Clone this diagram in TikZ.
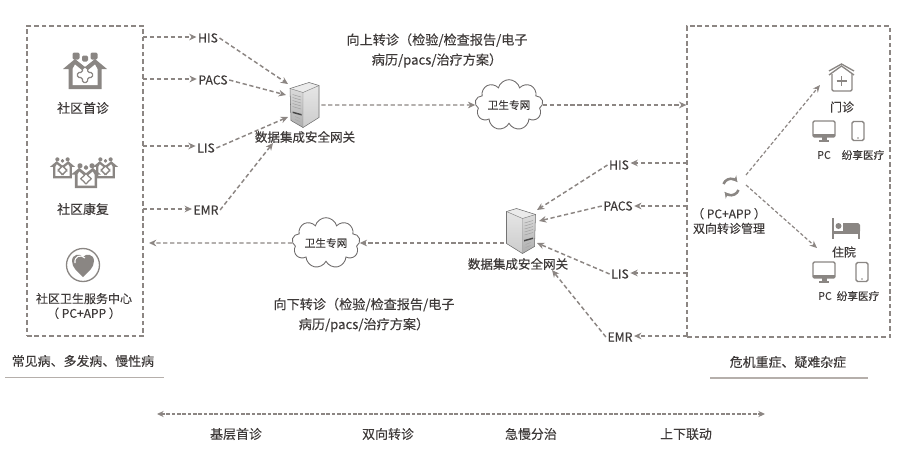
\documentclass[tikz,border=0pt]{standalone}
\usepackage{fontspec}
\setmainfont[FakeBold=0.18]{Noto Sans CJK SC}
\usetikzlibrary{arrows.meta,shapes.symbols}
\definecolor{dashc}{HTML}{8C8683}
\definecolor{iconc}{HTML}{8A8683}
\definecolor{txt}{HTML}{3E3A39}
\definecolor{rulec}{HTML}{B5AFAB}
\tikzset{
 lbl/.style={font=\fontsize{9.7pt}{11pt}\selectfont,text=txt,inner sep=1pt,align=center},
 latlbl/.style={font=\fontsize{9.2pt}{11pt}\selectfont,text=txt,inner sep=1pt,align=center},
 smalllbl/.style={font=\fontsize{8pt}{10pt}\selectfont,text=txt,inner sep=1pt,align=center},
 midlbl/.style={font=\fontsize{9pt}{11pt}\selectfont,text=txt,inner sep=1pt,align=center},
 para/.style={font=\fontsize{9.85pt}{15pt}\selectfont,text=txt,inner sep=0pt,align=center},
 dbox/.style={draw=dashc,line width=1pt,dash pattern=on 3.4pt off 2.2pt,inner sep=0pt,minimum width=0pt},
 conn/.style={draw=dashc,line width=1.1pt,dash pattern=on 3.2pt off 2pt,-{Stealth[length=5.5pt,width=5pt]}},
 thin conn/.style={draw=dashc,line width=.9pt,dash pattern=on 2.6pt off 1.6pt,-{Stealth[length=5.5pt,width=4.8pt]}},
 wan/.style={cloud,cloud puffs=9,cloud ignores aspect,draw=txt!75,line width=.65pt,fill=white,inner sep=0pt,minimum width=51pt,minimum height=38pt,font=\fontsize{8pt}{10pt}\selectfont,text=txt},
 hub/.style={minimum width=24pt,minimum height=36pt,inner sep=0pt},
 rulel/.style={draw=rulec,line width=1pt}
}
% server icon: #1,#2 centre in pixel units, #3 = 1 or -1 for mirroring
\newcommand{\srv}[3]{\begin{scope}[shift={(#1,#2)},xscale=#3]
 \fill[black!30] (-15,-16) -- (-14,16) -- (-2,23) -- (14,13) -- (14,-19) -- (4,-22) -- cycle;
 \shade[top color=black!14,bottom color=black!32] (-15,-16) -- (-2,-12) -- (-2,23) -- (-14,16) -- cycle;
 \shade[top color=black!10,bottom color=black!20] (-2,-12) -- (14,-19) -- (14,13) -- (-2,23) -- cycle;
 \fill[black!8] (-15,-16) -- (4,-22) -- (14,-19) -- (-2,-12) -- cycle;
 \foreach \yy in {-9,-6,-3,0,3}{\draw[black!38,line width=.35pt] (-12.5,\yy-1) -- (-4,\yy+1.5);}
 \fill[black!72] (-12.5,7) -- (-3.5,9.5) -- (-3.5,11) -- (-12.5,8.5) -- cycle;
 \foreach \yy in {13,16}{\draw[black!35,line width=.35pt] (-10,\yy-1) -- (-5,\yy+1);}
 \draw[black!48,line width=.35pt] (-15,-16) -- (-2,-12) -- (14,-19) (-2,-12) -- (-2,23);
 \draw[black!55,line width=.4pt] (-15,-16) -- (4,-22) -- (14,-19) -- (14,13) -- (-2,23) -- (-14,16) -- cycle;
\end{scope}}
% care-home icon
\newcommand{\people}[3]{\begin{scope}[shift={(#1,#2)},scale=#3]
 \fill[iconc,rounded corners=1pt] (-12.5,-18.5) rectangle (-5.5,-11.5);
 \fill[iconc,rounded corners=1pt] (-3,-15.5) rectangle (3,-9.5);
 \fill[iconc,rounded corners=1pt] (5.5,-18.5) rectangle (12.5,-11.5);
 \fill[iconc] (-22,-2) -- (-10,-12) -- (0,-4) -- (10,-12) -- (22,-2) -- (16.5,-2) -- (16.5,18) -- (-16.5,18) -- (-16.5,-2) -- cycle;
 \fill[white] (-12.5,-2) -- (-10,-6.5) -- (-2,0) -- (2,0) -- (10,-6.5) -- (12.5,-2) -- (12.5,14) -- (-12.5,14) -- cycle;
 \draw[iconc,line width=.9pt,fill=white,rounded corners=1.2] (-2.6,-3.5) -- (2.6,-3.5) -- (2.6,1.5) -- (7.6,1.5) -- (7.6,6.5) -- (2.6,6.5) -- (2.6,11.5) -- (-2.6,11.5) -- (-2.6,6.5) -- (-7.6,6.5) -- (-7.6,1.5) -- (-2.6,1.5) -- cycle;
\end{scope}}
\newcommand{\monitor}[2]{\begin{scope}[shift={(#1,#2)}]
 \draw[iconc,line width=1pt,rounded corners=1,fill=white] (-11,-10) rectangle (11,6);
 \fill[iconc] (-11,3) rectangle (11,6);
 \fill[iconc] (-2.5,6) rectangle (2.5,9);
 \fill[iconc] (-5,9) rectangle (5,10.5);
\end{scope}}
\newcommand{\phoneic}[2]{\begin{scope}[shift={(#1,#2)}]
 \draw[iconc,line width=1pt,rounded corners=1.2,fill=white] (-6,-9.5) rectangle (6,9.5);
 \fill[iconc] (0,7) circle (.9);
\end{scope}}
\begin{document}
\begin{tikzpicture}[x=.75pt,y=-.75pt]
\useasboundingbox (0,0) rectangle (907,454);
% containers
\node[dbox,minimum width=87pt,minimum height=232.5pt] (leftbox) at (85,181) {};
\node[dbox,minimum width=152.2pt,minimum height=233.2pt] (rightbox) at (788.5,181.5) {};
% left labels and icons
\people{85}{71}{1}
\node[lbl] (shouzhen) at (83,108) {社区首诊};
\people{62.5}{168}{.57}
\people{105.5}{168}{.57}
\people{86}{176}{.68}
\node[lbl] (kangfu) at (83,209) {社区康复};
\draw[iconc,line width=1pt] (83,265) circle (16.5);
\fill[iconc] (83,277) .. controls (78,272) and (72,268) .. (72,261) .. controls (72,254) and (80,253) .. (83,257) .. controls (86,253) and (94,254) .. (94,261) .. controls (94,268) and (88,272) .. (83,277) -- cycle;
\draw[white,line width=.8pt] (75,263) .. controls (74,256) and (81,254) .. (85,258);
\node[midlbl] (center) at (84,306) {社区卫生服务中心\\（ PC+APP ）};
\node[lbl] (common) at (83,361) {常见病、多发病、慢性病};
\coordinate (ruleLa) at (5,377.5); \coordinate (ruleLb) at (164,377.5);
\draw[rulel] (ruleLa) -- (ruleLb);
% upper row
\node[latlbl] (hisA) at (208,38) {HIS};
\node[latlbl] (pacsA) at (213,80) {PACS};
\node[latlbl] (lisA) at (206,148) {LIS};
\node[latlbl] (emrA) at (206,210) {EMR};
\foreach \n/\yy in {hisA/37,pacsA/79,lisA/146,emrA/209}{\draw[conn] (143,\yy) -- (\n.west |- 0,\yy);}
\srv{305}{104.5}{1}
\node[hub] (srvA) at (305,105) {};
\coordinate (srvAa) at (288,84); \coordinate (srvAb) at (286,95);
\coordinate (srvAc) at (288,117); \coordinate (srvAd) at (273,143);
\draw[conn] (hisA.east) -- (srvAa);
\draw[conn] (pacsA.east) -- (srvAb);
\draw[conn] (lisA.east) -- (srvAc);
\draw[conn] (emrA.east) -- (srvAd);
\node[midlbl,font=\fontsize{9.4pt}{11pt}\selectfont] (gateA) at (305,137) {数据集成安全网关};
\node[wan] (cloudA) at (509,105) {卫生专网};
\draw[conn] (srvA.east) -- (cloudA.west);
\draw[conn] (cloudA.east) -- (rightbox.west |- cloudA.east);
\node[para] (upT) at (437,50.5) {向上转诊（检验/检查报告/电子\\病历/pacs/治疗方案）};
% lower row
\node[latlbl] (hisB) at (619,165) {HIS};
\node[latlbl] (pacsB) at (618,206) {PACS};
\node[latlbl] (lisB) at (620,274) {LIS};
\node[latlbl] (emrB) at (620,337) {EMR};
\foreach \n/\yy in {hisB/163,pacsB/206,lisB/273,emrB/336}{\draw[conn] (687,\yy) -- (\n.east |- 0,\yy);}
\srv{520.5}{230.5}{-1}
\node[hub] (srvB) at (520.5,230.5) {};
\coordinate (srvBa) at (537,210); \coordinate (srvBb) at (539,221);
\coordinate (srvBc) at (537,243); \coordinate (srvBd) at (552,270);
\draw[conn] (hisB.west) -- (srvBa);
\draw[conn] (pacsB.west) -- (srvBb);
\draw[conn] (lisB.west) -- (srvBc);
\draw[conn] (emrB.west) -- (srvBd);
\node[midlbl,font=\fontsize{9.4pt}{11pt}\selectfont] (gateB) at (518,264) {数据集成安全网关};
\node[wan] (cloudB) at (326,243) {卫生专网};
\draw[conn] (srvB.west |- cloudB.east) -- (cloudB.east);
\coordinate (backL) at (149,243);
\draw[conn] (cloudB.west) -- (backL);
\node[para] (downT) at (364,315) {向下转诊（检验/检查报告/电子\\病历/pacs/治疗方案）};
% right panel
\node[midlbl] (mgr) at (729,221) {（ PC+APP ）\\双向转诊管理};
\node[inner sep=0pt,minimum size=15pt] (cycle) at (731,187) {};
\draw[iconc,line width=1.9pt,-{Stealth[length=4pt,width=5pt]}] (723.5,184) arc (200:320:8);
\draw[iconc,line width=1.9pt,-{Stealth[length=4pt,width=5pt]}] (738.5,190) arc (20:140:8);
\coordinate (mz) at (820,85); \coordinate (zy) at (817,248);
\draw[thin conn] (746,175) -- (mz);
\draw[thin conn] (746,185) -- (zy);
% clinic
\draw[iconc,line width=1pt,rounded corners=1] (832,74) -- (832,91) -- (852,91) -- (852,74);
\draw[iconc,line width=1pt] (829,75) -- (841.5,66) -- (854,75);
\draw[iconc,line width=1pt] (829,71) -- (841.5,64) -- (854,71);
\draw[iconc,line width=1pt] (841.5,76) -- (841.5,86) (836.5,81) -- (846.5,81);
\node[midlbl] (menzhen) at (842,107) {门诊};
\monitor{824}{131}\phoneic{858}{131}
\node[smalllbl] (pcA) at (824,155) {PC};
\node[smalllbl] (fxA) at (863,155) {纷享医疗};
% ward
\fill[iconc] (832,218) rectangle (834,239);
\fill[iconc] (834,231) rectangle (860,234);
\fill[iconc] (858,234) rectangle (860,239);
\fill[iconc] (843,223) -- (858,223) -- (860,225) -- (860,231) -- (843,231) -- cycle;
\fill[iconc] (838.5,226) circle (3);
\node[midlbl] (zhuyuan) at (844,252) {住院};
\monitor{824}{272}\phoneic{862}{272}
\node[smalllbl] (pcB) at (825,296) {PC};
\node[smalllbl] (fxB) at (858,296) {纷享医疗};
\node[lbl] (severe) at (788,362) {危机重症、疑难杂症};
\coordinate (ruleRa) at (710,378); \coordinate (ruleRb) at (868,378);
\draw[rulel] (ruleRa) -- (ruleRb);
% bottom
\coordinate (axL) at (157,414); \coordinate (axR) at (765,414);
\draw[draw=dashc,line width=1pt,dash pattern=on 2.6pt off 1.4pt,{Stealth[length=5pt,width=4.6pt]}-{Stealth[length=5pt,width=4.6pt]}] (axL) -- (axR);
\node[lbl] (b1) at (236,434) {基层首诊};
\node[lbl] (b2) at (388,434) {双向转诊};
\node[lbl] (b3) at (531,434) {急慢分治};
\node[lbl] (b4) at (686,434) {上下联动};
\end{tikzpicture}
\end{document}
